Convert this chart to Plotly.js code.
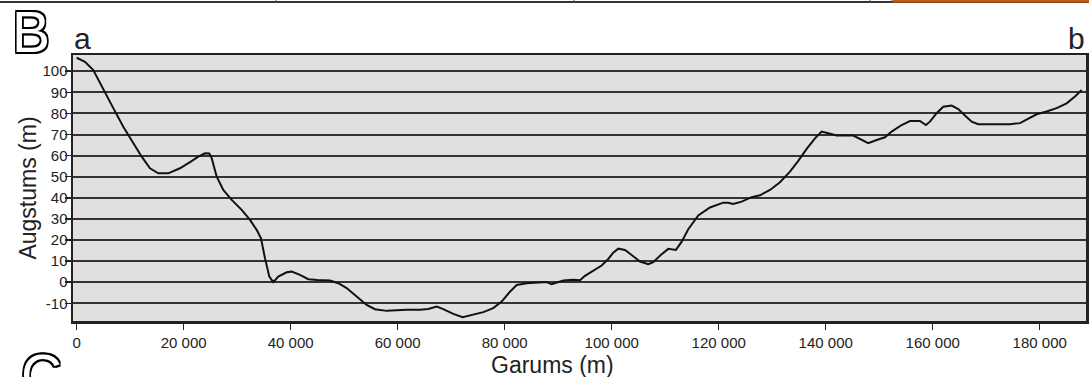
<!DOCTYPE html>
<html>
<head>
<meta charset="utf-8">
<script src="https://cdn.plot.ly/plotly-3.0.1.min.js"></script>
<style>
html,body{margin:0;padding:0;background:#fff;}
#chart{width:1089px;height:377px;}
</style>
</head>
<body>
<div id="chart"></div>
<script>
// Distance along profile (m)
const distance = [0,1550,3100,4970,6840,8710,10580,12150,13700,15250,17120,19300,21180,22730,23980,24790,25230,26170,27400,28970,30840,32390,33640,34450,35190,36000,36750,37680,39250,40180,41730,43290,45000,47340,48900,50460,52330,54200,55750,57940,61680,64160,65720,67280,68520,70390,72140,73830,76000,77860,79430,80980,82240,84110,85980,87840,88780,90950,92820,94070,95000,96550,98120,99360,100290,101230,102480,103730,105280,106830,107770,109340,110570,112010,113080,114310,116180,118370,120850,121780,122720,124290,126160,127710,129580,131450,133320,134870,136440,137990,139240,140480,142050,145150,146720,147950,149520,151070,152320,154190,155740,157610,158730,159480,160730,161970,163540,164780,166020,167280,168510,170700,174430,176310,177850,179420,181290,183160,185030,186590,187830];
// Elevation (m)
const elevation = [106.4,104.5,100.6,91.9,82.5,73.7,65.9,59.5,54.0,51.6,51.6,54.0,56.9,59.5,61.1,61.0,58.8,50.0,43.7,39.0,34.3,29.5,24.8,20.8,11.4,2.7,0.0,2.7,4.7,5.0,3.5,1.4,1.0,0.8,-0.5,-2.8,-6.8,-10.8,-12.8,-13.6,-13.1,-13.1,-12.7,-11.6,-12.8,-15.0,-16.6,-15.6,-14.2,-12.3,-9.2,-4.5,-1.3,-0.5,-0.2,0.1,-1.0,0.8,1.1,0.9,3.0,5.5,7.9,11.0,14.0,15.9,15.3,12.9,9.8,8.5,9.5,13.3,15.8,15.3,19.2,25.1,31.6,35.4,37.7,37.7,37.1,38.2,40.3,41.2,43.7,47.4,52.4,57.5,63.2,68.2,71.4,70.6,69.5,69.5,67.4,65.9,67.4,68.7,71.4,74.5,76.4,76.4,74.5,76.1,80.1,83.2,83.7,82.1,79.0,76.1,74.9,74.9,74.9,75.4,77.4,79.6,80.9,82.5,84.8,88.0,91.1];

const xTickVals = [0,20000,40000,60000,80000,100000,120000,140000,160000,180000];
const xTickText = ["0","20 000","40 000","60 000","80 000","100 000","120 000","140 000","160 000","180 000"];
const yTickVals = [-10,0,10,20,30,40,50,60,70,80,90,100];
const yTickText = ["-10","0","10","20","30","40","50","60","70","80","90","100"];

const xTitle = "Garums (m)";
const yTitle = "Augstums (m)";
const panelLetter = "B";
const nextPanelLetter = "C";
const startLabel = "a";
const endLabel = "b";

// pixel -> paper helpers (plot area: x 73..1086, y 55..321)
const W = 1089, H = 377, L = 73, R = 1086, T = 55, B = 321;
const px = p => (p - L) / (R - L);
const py = p => (B - p) / (B - T);

const FONT = "Liberation Sans, Arial, sans-serif";
const outline = "-1.6px -1.6px 0 #000, 1.6px -1.6px 0 #000, -1.6px 1.6px 0 #000, 1.6px 1.6px 0 #000, 0 -1.6px 0 #000, 0 1.6px 0 #000, -1.6px 0 0 #000, 1.6px 0 0 #000";

const trace = {
  x: distance, y: elevation, type: "scatter", mode: "lines",
  line: {color: "#111", width: 2}, hoverinfo: "skip", showlegend: false
};

const layout = {
  width: W, height: H,
  margin: {l: L, r: W - R, t: T, b: H - B, pad: 0},
  paper_bgcolor: "#ffffff",
  plot_bgcolor: "#e0e0e0",
  font: {family: FONT, color: "#222"},
  showlegend: false,
  xaxis: {
    range: [-690, 188650], tickvals: xTickVals, ticktext: xTickText,
    ticks: "outside", ticklen: 6, tickwidth: 1.5, tickcolor: "#222",
    tickfont: {size: 15, color: "#222", family: FONT},
    showgrid: false, zeroline: false,
    showline: true, linecolor: "#222", linewidth: 2.5, mirror: true
  },
  yaxis: {
    range: [-18.4, 107.7], tickvals: yTickVals, ticktext: yTickText,
    ticks: "outside", ticklen: 6, tickwidth: 1.5, tickcolor: "#222",
    ticklabelstandoff: -6,
    tickfont: {size: 15, color: "#222", family: FONT},
    showgrid: true, gridcolor: "#333", gridwidth: 2, zeroline: false,
    showline: true, linecolor: "#222", linewidth: 2.5, mirror: true,
    title: {text: yTitle, font: {size: 23, color: "#222", family: FONT}, standoff: 0}
  },
  annotations: [
    {text: xTitle, xref: "paper", yref: "paper", x: px(552), y: py(350), xanchor: "center", yanchor: "top",
     showarrow: false, font: {size: 23, color: "#222", family: FONT}},
    {text: startLabel, xref: "paper", yref: "paper", x: px(72), y: py(57), xanchor: "left", yanchor: "bottom",
     showarrow: false, font: {size: 30, color: "#222", family: FONT}},
    {text: endLabel, xref: "paper", yref: "paper", x: px(1087), y: py(57), xanchor: "right", yanchor: "bottom",
     showarrow: false, font: {size: 30, color: "#222", family: FONT}},
    {text: panelLetter, xref: "paper", yref: "paper", x: px(10), y: py(66), xanchor: "left", yanchor: "bottom",
     showarrow: false, font: {size: 57, color: "#ffffff", family: FONT, shadow: outline}},
    {text: nextPanelLetter, xref: "paper", yref: "paper", x: px(19), y: py(341), xanchor: "left", yanchor: "top",
     showarrow: false, font: {size: 57, color: "#ffffff", family: FONT, shadow: outline}}
  ],
  shapes: [
    {type: "line", xref: "paper", yref: "paper", x0: px(0), x1: px(1089), y0: py(2), y1: py(2), line: {color: "#333", width: 2}},
    {type: "rect", xref: "paper", yref: "paper", x0: px(893), x1: px(1089), y0: py(0), y1: py(2.5), fillcolor: "#c8580a", line: {width: 0}},
    {type: "line", xref: "paper", yref: "paper", x0: px(276), x1: px(276), y0: py(0), y1: py(3), line: {color: "#555", width: 1}},
    {type: "line", xref: "paper", yref: "paper", x0: px(574), x1: px(574), y0: py(0), y1: py(3), line: {color: "#555", width: 1}},
    {type: "line", xref: "paper", yref: "paper", x0: px(870), x1: px(870), y0: py(0), y1: py(3), line: {color: "#555", width: 1}},
    {type: "line", xref: "paper", yref: "paper", x0: px(892), x1: px(892), y0: py(0), y1: py(3), line: {color: "#555", width: 1}}
  ]
};

Plotly.newPlot("chart", [trace], layout, {staticPlot: true, displayModeBar: false});
</script>
</body>
</html>
